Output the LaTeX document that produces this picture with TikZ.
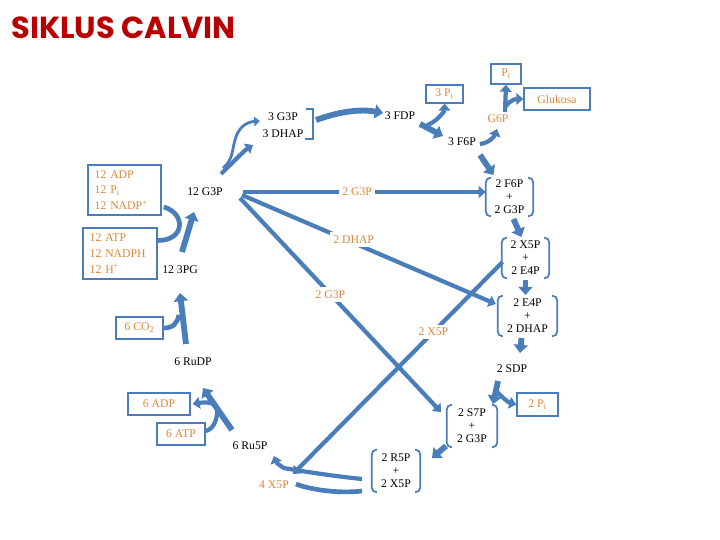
\documentclass[tikz,border=0pt]{standalone}
\usepackage{fontspec}
\setmainfont{Liberation Serif}
\newfontfamily\titlefont{Poppins}
\usetikzlibrary{arrows.meta,calc}
\definecolor{calvblue}{HTML}{4A7EBB}
\definecolor{calvorange}{HTML}{D9883C}
\definecolor{calvred}{HTML}{B80000}

\begin{document}
\begin{tikzpicture}[x=0.03cm,y=-0.03cm,
 every node/.style={font=\fontsize{10}{11}\selectfont,inner sep=1pt},
 otxt/.style={text=calvorange},
 box/.style={draw=calvblue,line width=1.2pt,text=calvorange,minimum height=0.66cm},
 lbox/.style={box,align=left,font=\fontsize{10}{13.5}\selectfont,inner xsep=0.2cm},
 grp/.style={align=center,minimum width=1.41cm,minimum height=1.2cm},
 brk/.style={draw=calvblue,line width=1.5pt,rounded corners=4pt},
 ln/.style={draw=calvblue,line width=3.6pt,-{Triangle[length=6pt,width=10pt]}},
 arr/.style={draw=calvblue,line width=5pt,-{Triangle[length=7pt,width=12pt]}},
 med/.style={draw=calvblue,line width=3.6pt,-{Triangle[length=6pt,width=10pt]}},
 thinarr/.style={draw=calvblue,line width=2.4pt,-{Triangle[length=5pt,width=8pt]}},
 flow/.style={draw=calvblue,line width=4pt},
 lbl/.style={otxt,fill=white,inner sep=3pt}]
\useasboundingbox (0,0) rectangle (720,540);
\node[anchor=west,text=calvred,font={\titlefont\bfseries\fontsize{26}{28}\selectfont}] (title) at (10,28) {SIKLUS CALVIN};
% top row
\node (g3pA) at (283,117) {3 G3P};
\node (dhapA) at (283,134) {3 DHAP};
\node (fdp) at (400,116) {3 FDP};
\node[box,minimum width=1.11cm,minimum height=0.54cm] (piA) at (444.5,94) {3 P\textsubscript{i}};
\node (f6pA) at (462,142) {3 F6P};
\node[otxt] (g6p) at (498,119) {G6P};
\node[box,minimum width=0.9cm,minimum height=0.6cm] (piB) at (506,74) {P\textsubscript{i}};
\node[box,minimum width=1.98cm] (gluk) at (557,99) {Glukosa};
% left side
\node (g3pB) at (205,192) {12 G3P};
\node[lbox,text width=1.79cm,minimum height=1.5cm] (adpB) at (124.5,190) {12 ADP\\12 P\textsubscript{i}\\12 NADP\textsuperscript{+}};
\node[lbox,text width=1.82cm,minimum height=1.53cm] (atpB) at (120,253.5) {12 ATP\\12 NADPH\\12 H\textsuperscript{+}};
\node (pgB) at (180,270) {12 3PG};
\node[box,minimum width=1.41cm] (co2) at (139.5,328) {6 CO\textsubscript{2}};
\node (rudp) at (193,362) {6 RuDP};
\node[box,minimum width=1.86cm] (adpC) at (159,404) {6 ADP};
\node[box,minimum width=1.44cm] (atpC) at (181,434) {6 ATP};
\node (ru5p) at (250,446) {6 Ru5P};
\node[otxt] (x5pD) at (274,485) {4 X5P};
% right side
\node[grp,minimum height=1.14cm] (f6) at (509.5,197) {2 F6P\\+\\2 G3P};
\node[grp] (x5) at (525.5,258) {2 X5P\\+\\2 E4P};
\node[grp,minimum width=1.77cm] (e4) at (527.5,316) {2 E4P\\+\\2 DHAP};
\node (sdp) at (512,369) {2 SDP};
\node[box,minimum width=1.23cm,minimum height=0.69cm] (piC) at (537.5,404.5) {2 P\textsubscript{i}};
\node[grp,minimum width=1.5cm,minimum height=1.26cm] (s7) at (472,426) {2 S7P\\+\\2 G3P};
\node[grp,minimum width=1.44cm,minimum height=1.26cm] (r5) at (396,471) {2 R5P\\+\\2 X5P};
% brackets
\foreach \g in {f6,x5,e4,s7,r5}{
 \draw[brk] ($(\g.north west)+(5,0)$) -- (\g.north west) -- (\g.south west) -- ($(\g.south west)+(5,0)$);
 \draw[brk] ($(\g.north east)+(-5,0)$) -- (\g.north east) -- (\g.south east) -- ($(\g.south east)+(-5,0)$);
}
\draw[brk,rounded corners=0pt] ($(g3pA)+(23,-8)$) -- ($(g3pA)+(30,-8)$) -- ($(dhapA)+(30,5)$) -- ($(dhapA)+(22,5)$);
% top arrows
\draw[thinarr] ($(g3pB)+(18,-24)$) .. controls +(10,-8) and +(-3,10) .. ($(g3pA)+(-48,23)$) .. controls +(3,-12) and +(-14,1) .. ($(g3pA)+(-23,4)$);
\draw[med] ($(g3pB)+(16,-18)$) .. controls +(10,-10) and +(-8,5) .. ($(g3pA)+(-30,28)$);
\draw[arr] ($(g3pA)+(33,3)$) .. controls +(25,-9) and +(-22,-4) .. ($(fdp)+(-17,-3)$);
\draw[arr] ($(fdp)+(20,8)$) -- ($(f6pA)+(-19,-6)$);
\draw[med] ($(fdp)+(27,9)$) .. controls +(8,-2) and +(0,8) .. (piA.south);
\draw[med] ($(f6pA)+(18,2)$) .. controls +(10,-1) and +(-2,6) .. ($(g6p)+(-1,10)$);
\draw[med] ($(g6p)+(7,-7)$) -- (piB.south);
\draw[med] ($(g6p)+(8,-13)$) .. controls +(3,-5) and +(-8,0) .. (gluk.west);
\draw[arr] ($(f6pA)+(18,13)$) -- ($(f6)+(-16,-22)$);
% long lines from 12 G3P and 2 X5P
\draw[ln] ($(g3pB)+(38,0)$) -- node[lbl,pos=0.47]{2 G3P} ($(f6.west)+(0,-5)$);
\draw[ln] ($(g3pB)+(37,3)$) -- node[lbl,pos=0.44,yshift=3pt]{2 DHAP} ($(e4.west)+(-2,-12)$);
\draw[ln] ($(g3pB)+(35,6)$) -- node[lbl,pos=0.45]{2 G3P} ($(s7)+(-31,-14)$);
\draw[ln] ($(x5)+(-23,4)$) -- node[lbl,pos=0.33]{2 X5P} ($(x5pD)+(19,-11)$);
% right column
\draw[arr] ($(f6)+(4,22)$) -- ($(x5)+(-4,-21)$);
\draw[arr] ($(x5)+(0,22)$) -- ($(e4)+(-2,-21)$);
\draw[arr] ($(e4)+(-6,22)$) -- ($(sdp)+(8,-16)$);
\draw[arr] ($(sdp)+(-14,12)$) -- ($(s7)+(21,-22)$);
\draw[med] ($(sdp)+(-16,22)$) .. controls +(6,6) and +(-8,-2) .. (piC.west);
\draw[arr] ($(s7)+(-26,20)$) -- ($(r5)+(36,-13)$);
% bottom and left
\draw[med] ($(r5)+(-34,8)$) .. controls +(-30,-3) and +(10,2) .. ($(x5pD)+(10,-17)$) .. controls +(-4,-2) and +(2,6) .. ($(ru5p)+(24,10)$);
\draw[flow] ($(r5)+(-34,20)$) .. controls +(-25,3) and +(12,5) .. ($(x5pD)+(22,-1)$);
\draw[arr] ($(ru5p)+(-18,-16)$) -- ($(rudp)+(10,26)$);
\draw[med] ($(atpC.east)+(0,-3)$) .. controls +(10,-2) and +(1,6) .. ($(rudp)+(24,46)$) .. controls +(-1,-6) and +(12,-2) .. ($(adpC.east)+(2,0)$);
\draw[arr] ($(rudp)+(-7,-18)$) -- ($(pgB)+(0,23)$);
\draw[flow] (co2.east) .. controls +(10,0) and +(-2,8) .. ($(pgB)+(-1,45)$);
\draw[arr] ($(pgB)+(2,-18)$) -- ($(g3pB)+(-11,20)$);
\draw[flow] ($(atpB.east)+(0,-13)$) .. controls +(28,0) and +(22,6) .. ($(adpB.east)+(2,17)$);
\end{tikzpicture}
\end{document}
